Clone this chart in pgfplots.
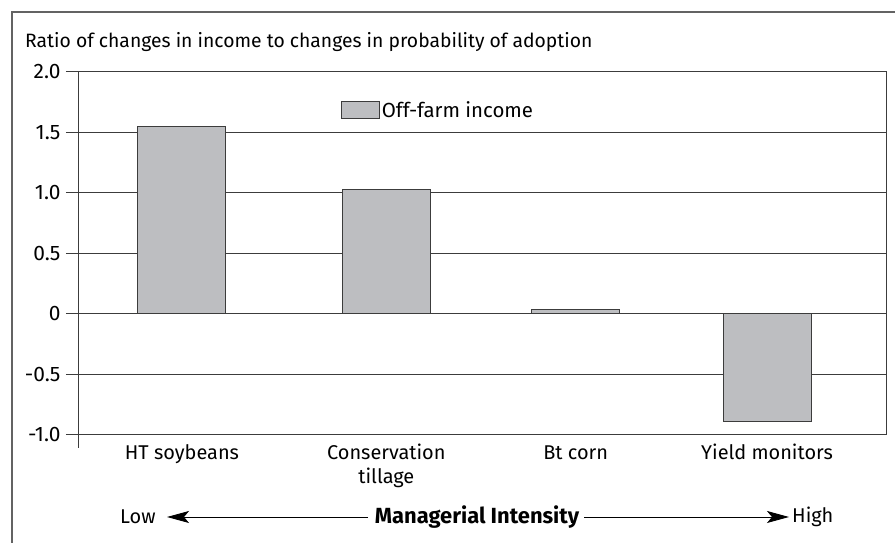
\documentclass[border=0pt]{standalone}
\usepackage{fontspec}
\setmainfont{Fira Sans}
\usepackage{pgfplots}
\pgfplotsset{compat=1.18}
\usetikzlibrary{arrows.meta}
\definecolor{barfill}{RGB}{189,190,193}
\definecolor{linegray}{RGB}{60,60,60}
\begin{document}
\begin{tikzpicture}[x=1bp,y=1bp]
\path[use as bounding box] (0,0) rectangle (895,543);
\draw[linegray!80, line width=1.2bp] (12,0) -- (12,531) -- (895,531);
\node[anchor=west, font=\fontsize{19.4}{22}\selectfont, inner sep=0] at (25,501) {Ratio of changes in income to changes in probability of adoption};
\begin{axis}[
  at={(78bp,108bp)}, anchor=south west,
  width=808bp, height=363bp, scale only axis,
  xmin=-0.533, xmax=3.61, ymin=-1, ymax=2,
  ybar, bar width=88bp,
  xtick={0,1.048,2.019,3},
  xticklabels={\strut HT soybeans, {\strut Conservation\\tillage}, \strut Bt corn, \strut Yield monitors},
  xticklabel style={align=center, font=\fontsize{20}{24}\selectfont, yshift=8bp},
  x tick style={draw=none},
  ytick={-1,-0.5,0,0.5,1,1.5,2},
  yticklabels={-1.0,-0.5,0,0.5,1.0,1.5,2.0},
  yticklabel style={font=\fontsize{21}{20}\selectfont, xshift=-2bp},
  ytick pos=left,
  y tick style={linegray, line width=1bp},
  tick align=outside, major tick length=12bp,
  ymajorgrids, grid style={linegray, line width=1bp},
  axis line style={linegray, line width=1bp},
  legend style={at={(0.325,0.925)}, anchor=north west, draw=none, fill=none,
    font=\fontsize{20.5}{20}\selectfont, inner sep=0pt},
  legend image code/.code={\draw[#1, bar width=0pt] (0bp,-8bp) rectangle (38bp,9bp);},
  clip=false,
]
\addplot[fill=barfill, draw=linegray, line width=1bp] coordinates {(0,1.55) (1.048,1.03) (2.019,0.04) (3,-0.89)};
\addlegendentry{Off-farm income}
\end{axis}
\draw[linegray, line width=1bp] (78,108) -- (78,95);
\node[anchor=west, font=\fontsize{20}{20}\selectfont, inner sep=0] at (120,26) {Low};
\draw[-{Stealth[length=22bp,width=12bp,inset=5bp]}, line width=0.9bp] (368,26) -- (167,26);
\node[font=\fontsize{22}{22}\selectfont\bfseries, inner sep=0] at (477,26) {Managerial Intensity};
\draw[-{Stealth[length=22bp,width=12bp,inset=5bp]}, line width=0.9bp] (584,26) -- (789,26);
\node[anchor=west, font=\fontsize{20}{20}\selectfont, inner sep=0] at (792,26) {High};
\end{tikzpicture}
\end{document}
